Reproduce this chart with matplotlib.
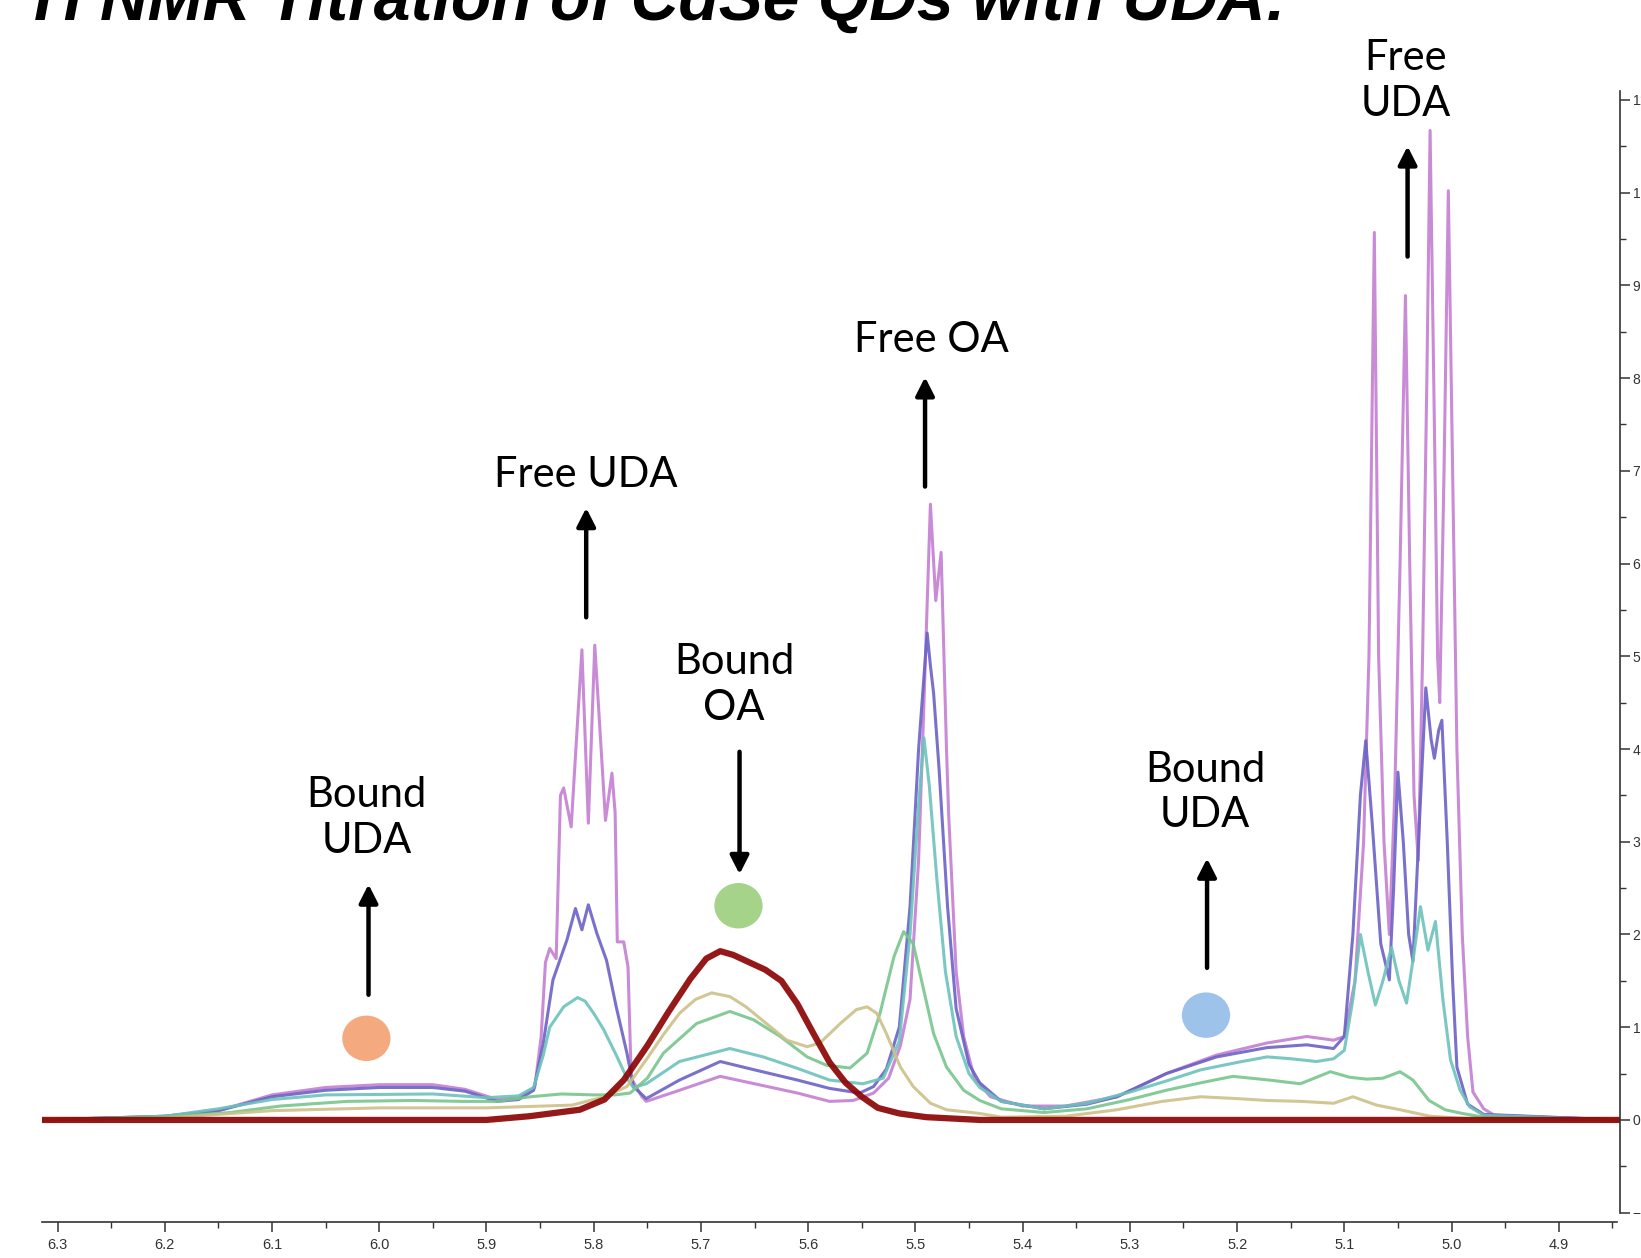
import numpy as np
import matplotlib.pyplot as plt
from matplotlib.patches import Ellipse
from matplotlib.ticker import MultipleLocator, FormatStrFormatter

# 1H traces (ppm, intensity), QDs alone first, then increasing UDA
red_ppm = [6.315, 6.20, 6.00, 5.90, 5.86, 5.813, 5.79, 5.772, 5.75, 5.73, 5.71, 5.695,
           5.682, 5.67, 5.655, 5.64, 5.625, 5.61, 5.595, 5.58, 5.565, 5.55, 5.535,
           5.515, 5.49, 5.44, 5.30, 5.10, 4.95, 4.843]
red_int = [0.0, 0.0, 0.0, 0.0, 0.04, 0.11, 0.22, 0.43, 0.80, 1.17, 1.52, 1.74,
           1.82, 1.78, 1.70, 1.62, 1.50, 1.25, 0.93, 0.62, 0.40, 0.25, 0.13,
           0.07, 0.03, 0.0, 0.0, 0.0, 0.0, 0.0]

khaki_ppm = [6.315, 6.20, 6.15, 6.10, 6.00, 5.90, 5.82, 5.79, 5.769, 5.751, 5.735,
             5.720, 5.705, 5.690, 5.673, 5.658, 5.639, 5.620, 5.601, 5.589, 5.570,
             5.555, 5.545, 5.536, 5.527, 5.514, 5.502, 5.486, 5.471, 5.44, 5.42,
             5.36, 5.312, 5.27, 5.234, 5.20, 5.172, 5.14, 5.110, 5.092, 5.07,
             5.048, 5.02, 4.98, 4.843]
khaki_int = [0.0, 0.02, 0.06, 0.10, 0.13, 0.13, 0.16, 0.25, 0.36, 0.65, 0.92,
             1.15, 1.30, 1.37, 1.33, 1.22, 1.04, 0.86, 0.79, 0.83, 1.04,
             1.19, 1.22, 1.15, 0.93, 0.57, 0.36, 0.18, 0.11, 0.07, 0.03,
             0.04, 0.11, 0.20, 0.25, 0.23, 0.21, 0.20, 0.18, 0.25, 0.16,
             0.11, 0.04, 0.01, 0.0]

green_ppm = [6.315, 6.20, 6.139, 6.092, 6.03, 5.968, 5.922, 5.89, 5.859, 5.83, 5.80,
             5.78, 5.766, 5.75, 5.735, 5.704, 5.673, 5.651, 5.626, 5.601, 5.583,
             5.561, 5.545, 5.533, 5.520, 5.511, 5.502, 5.493, 5.483, 5.471, 5.455,
             5.44, 5.42, 5.38, 5.34, 5.30, 5.266, 5.234, 5.204, 5.17, 5.141,
             5.113, 5.095, 5.079, 5.064, 5.048, 5.036, 5.021, 5.006, 4.99, 4.97,
             4.843]
green_int = [0.0, 0.03, 0.08, 0.15, 0.20, 0.21, 0.20, 0.20, 0.25, 0.28, 0.27,
             0.27, 0.29, 0.45, 0.72, 1.04, 1.17, 1.08, 0.90, 0.68, 0.59,
             0.56, 0.72, 1.15, 1.76, 2.03, 1.90, 1.44, 0.93, 0.57, 0.32,
             0.21, 0.12, 0.08, 0.12, 0.22, 0.32, 0.40, 0.47, 0.43, 0.39,
             0.52, 0.46, 0.44, 0.45, 0.52, 0.43, 0.21, 0.11, 0.07, 0.03,
             0.0]

teal_ppm = [6.315, 6.20, 6.15, 6.10, 6.05, 5.95, 5.90, 5.87, 5.856, 5.847, 5.841,
            5.828, 5.815, 5.808, 5.800, 5.791, 5.779, 5.769, 5.763, 5.751, 5.72,
            5.673, 5.642, 5.611, 5.58, 5.549, 5.53, 5.515, 5.505, 5.497, 5.492,
            5.487, 5.48, 5.472, 5.462, 5.45, 5.44, 5.42, 5.38, 5.34, 5.30,
            5.266, 5.234, 5.20, 5.172, 5.15, 5.126, 5.11, 5.10, 5.092, 5.085,
            5.078, 5.071, 5.064, 5.056, 5.049, 5.042, 5.035, 5.029, 5.022, 5.015,
            5.008, 5.001, 4.992, 4.983, 4.97, 4.843]
teal_int = [0.0, 0.04, 0.12, 0.22, 0.27, 0.28, 0.24, 0.26, 0.35, 0.70, 1.00,
            1.22, 1.32, 1.28, 1.15, 0.98, 0.70, 0.45, 0.35, 0.39, 0.63,
            0.77, 0.68, 0.56, 0.43, 0.39, 0.45, 0.85, 2.0, 3.4, 4.12,
            3.6, 2.6, 1.6, 0.9, 0.5, 0.35, 0.20, 0.12, 0.18, 0.30,
            0.42, 0.54, 0.62, 0.68, 0.66, 0.63, 0.66, 0.75, 1.3, 2.0,
            1.6, 1.24, 1.5, 1.86, 1.5, 1.26, 1.8, 2.30, 1.83, 2.14,
            1.29, 0.65, 0.32, 0.14, 0.05, 0.0]

slate_ppm = [6.315, 6.20, 6.15, 6.10, 6.05, 6.00, 5.95, 5.92, 5.89, 5.87, 5.856,
             5.847, 5.838, 5.825, 5.817, 5.811, 5.805, 5.797, 5.788, 5.779, 5.769,
             5.763, 5.751, 5.72, 5.682, 5.65, 5.61, 5.58, 5.552, 5.539, 5.527,
             5.515, 5.505, 5.497, 5.489, 5.486, 5.483, 5.478, 5.47, 5.462, 5.45,
             5.44, 5.42, 5.38, 5.34, 5.312, 5.266, 5.219, 5.172, 5.135, 5.11,
             5.10, 5.092, 5.085, 5.080, 5.074, 5.066, 5.058, 5.054, 5.050, 5.045,
             5.040, 5.036, 5.030, 5.024, 5.019, 5.016, 5.012, 5.009, 5.004, 4.999,
             4.995, 4.985, 4.97, 4.843]
slate_int = [0.0, 0.04, 0.10, 0.25, 0.32, 0.35, 0.35, 0.31, 0.20, 0.22, 0.32,
             0.83, 1.51, 1.94, 2.28, 2.05, 2.32, 2.01, 1.72, 1.22, 0.72,
             0.36, 0.23, 0.43, 0.63, 0.54, 0.43, 0.34, 0.29, 0.36, 0.55,
             1.0, 2.3, 4.0, 5.25, 4.9, 4.6, 3.8, 2.3, 1.2, 0.6,
             0.4, 0.2, 0.12, 0.17, 0.25, 0.50, 0.68, 0.78, 0.81, 0.77,
             0.9, 2.0, 3.5, 4.09, 3.2, 1.9, 1.51, 2.5, 3.75, 3.0,
             2.0, 1.71, 3.2, 4.66, 4.1, 3.9, 4.2, 4.31, 3.0, 1.5,
             0.57, 0.17, 0.06, 0.0]

orchid_ppm = [6.315, 6.20, 6.15, 6.10, 6.05, 6.00, 5.95, 5.92, 5.89, 5.87, 5.855,
              5.849, 5.845, 5.841, 5.835, 5.831, 5.828, 5.821, 5.811, 5.805, 5.799,
              5.789, 5.783, 5.780, 5.778, 5.772, 5.768, 5.765, 5.755, 5.751, 5.72,
              5.682, 5.65, 5.61, 5.58, 5.558, 5.539, 5.525, 5.514, 5.505, 5.497,
              5.492, 5.486, 5.481, 5.476, 5.471, 5.469, 5.462, 5.455, 5.445, 5.43,
              5.40, 5.36, 5.312, 5.266, 5.219, 5.172, 5.135, 5.11, 5.10, 5.09,
              5.082, 5.077, 5.072, 5.068, 5.063, 5.058, 5.053, 5.048, 5.043, 5.039,
              5.035, 5.031, 5.027, 5.023, 5.020, 5.016, 5.013, 5.011, 5.007, 5.003,
              4.999, 4.995, 4.99, 4.985, 4.980, 4.97, 4.96, 4.843]
orchid_int = [0.0, 0.04, 0.10, 0.27, 0.35, 0.38, 0.38, 0.33, 0.22, 0.24, 0.35,
              0.9, 1.7, 1.85, 1.74, 3.5, 3.58, 3.16, 5.07, 3.20, 5.12,
              3.23, 3.74, 3.31, 1.92, 1.92, 1.65, 0.45, 0.25, 0.20, 0.32,
              0.47, 0.39, 0.29, 0.20, 0.21, 0.29, 0.45, 0.8, 1.3, 2.8,
              4.5, 6.64, 5.6, 6.12, 4.0, 3.3, 1.6, 0.9, 0.45, 0.25,
              0.15, 0.15, 0.25, 0.50, 0.70, 0.83, 0.90, 0.86, 0.9, 1.5,
              3.0, 5.0, 9.57, 5.0, 3.0, 2.0, 3.5, 6.0, 8.89, 6.0,
              3.5, 2.8, 5.0, 8.0, 10.67, 7.5, 5.0, 4.5, 7.0, 10.02,
              7.0, 4.0, 2.0, 0.9, 0.3, 0.12, 0.05, 0.0]

traces = [
    (orchid_ppm, orchid_int, '#c47fd2', 2.2),
    (slate_ppm, slate_int, '#6a62c6', 2.2),
    (teal_ppm, teal_int, '#6cc2bb', 2.2),
    (green_ppm, green_int, '#78c68c', 2.2),
    (khaki_ppm, khaki_int, '#cbc189', 2.2),
    (red_ppm, red_int, '#8b0000', 4.5),
]

fig = plt.figure(figsize=(16.41, 12.58), dpi=100)
ax = fig.add_axes([42 / 1641, 0.02822, 1578 / 1641, 0.89976])

for ppm, inten, col, lw in traces:
    ax.plot(ppm, inten, color=col, lw=lw, alpha=0.9, solid_joinstyle='round')

ax.set_xlim(6.3145, 4.8429)
ax.set_ylim(-1.106, 11.1)

# NMR-style frame: ppm axis at the bottom, intensity scale on the right
ax.spines['top'].set_visible(False)
ax.spines['left'].set_visible(False)
ax.spines['right'].set_bounds(-1.0, 11.1)
ax.spines['bottom'].set_bounds(6.3145, 4.846)
for s in ('right', 'bottom'):
    ax.spines[s].set_linewidth(1.2)
    ax.spines[s].set_color('#333333')
ax.yaxis.tick_right()
ax.xaxis.set_major_locator(MultipleLocator(0.1))
ax.xaxis.set_minor_locator(MultipleLocator(0.05))
ax.xaxis.set_major_formatter(FormatStrFormatter('%.1f'))
ax.yaxis.set_major_locator(MultipleLocator(1))
ax.yaxis.set_minor_locator(MultipleLocator(0.5))
tick_font = ['Liberation Sans Narrow', 'Liberation Sans']
ax.tick_params(axis='x', which='major', length=7, width=1.1, colors='#333333',
               labelsize=10.5, pad=4)
ax.tick_params(axis='x', which='minor', length=4, width=1.0, colors='#333333')
ax.tick_params(axis='y', which='major', length=7, width=1.1, colors='#333333',
               labelsize=10, pad=2)
ax.tick_params(axis='y', which='minor', length=4, width=1.0, colors='#333333')
for lab in ax.get_xticklabels() + ax.get_yticklabels():
    lab.set_family(tick_font)

fig.text(0.0073, 1 - 20 / 1258, '\u00b9H NMR Titration of CdSe QDs with UDA:',
         family='Liberation Sans', weight='bold', style='italic', fontsize=47.5,
         va='baseline', ha='left')

# peak labels with arrows
lab_kw = dict(family='Lato', fontsize=30, ha='center', va='center',
              linespacing=1.25, clip_on=False)
labels = [
    ('Free\nUDA', 5.043, 11.20),
    ('Free OA', 5.485, 8.41),
    ('Free UDA', 5.807, 6.96),
    ('Bound\nOA', 5.669, 4.69),
    ('Bound\nUDA', 6.012, 3.26),
    ('Bound\nUDA', 5.230, 3.53),
]
for txt, x, y in labels:
    ax.text(x, y, txt, **lab_kw)

arrows = [
    (5.041, 9.31, 10.50),
    (5.491, 6.83, 8.01),
    (5.807, 5.42, 6.60),
    (5.664, 3.97, 2.65),
    (6.010, 1.35, 2.54),
    (5.228, 1.64, 2.82),
]
for x, y0, y1 in arrows:
    ax.annotate('', xy=(x, y1), xytext=(x, y0), annotation_clip=False,
                arrowprops=dict(arrowstyle='-|>,head_length=0.55,head_width=0.28',
                                lw=3.2, color='black', mutation_scale=20,
                                shrinkA=0, shrinkB=0))

# colour markers for the bound species
for x, y, col in [(6.012, 0.88, '#f4aa7e'), (5.665, 2.31, '#a5d38a'),
                  (5.229, 1.13, '#9ec3ea')]:
    ax.add_patch(Ellipse((x, y), 0.045, 0.49, color=col, lw=0, zorder=3))

fig.savefig('out.png', dpi=100)
